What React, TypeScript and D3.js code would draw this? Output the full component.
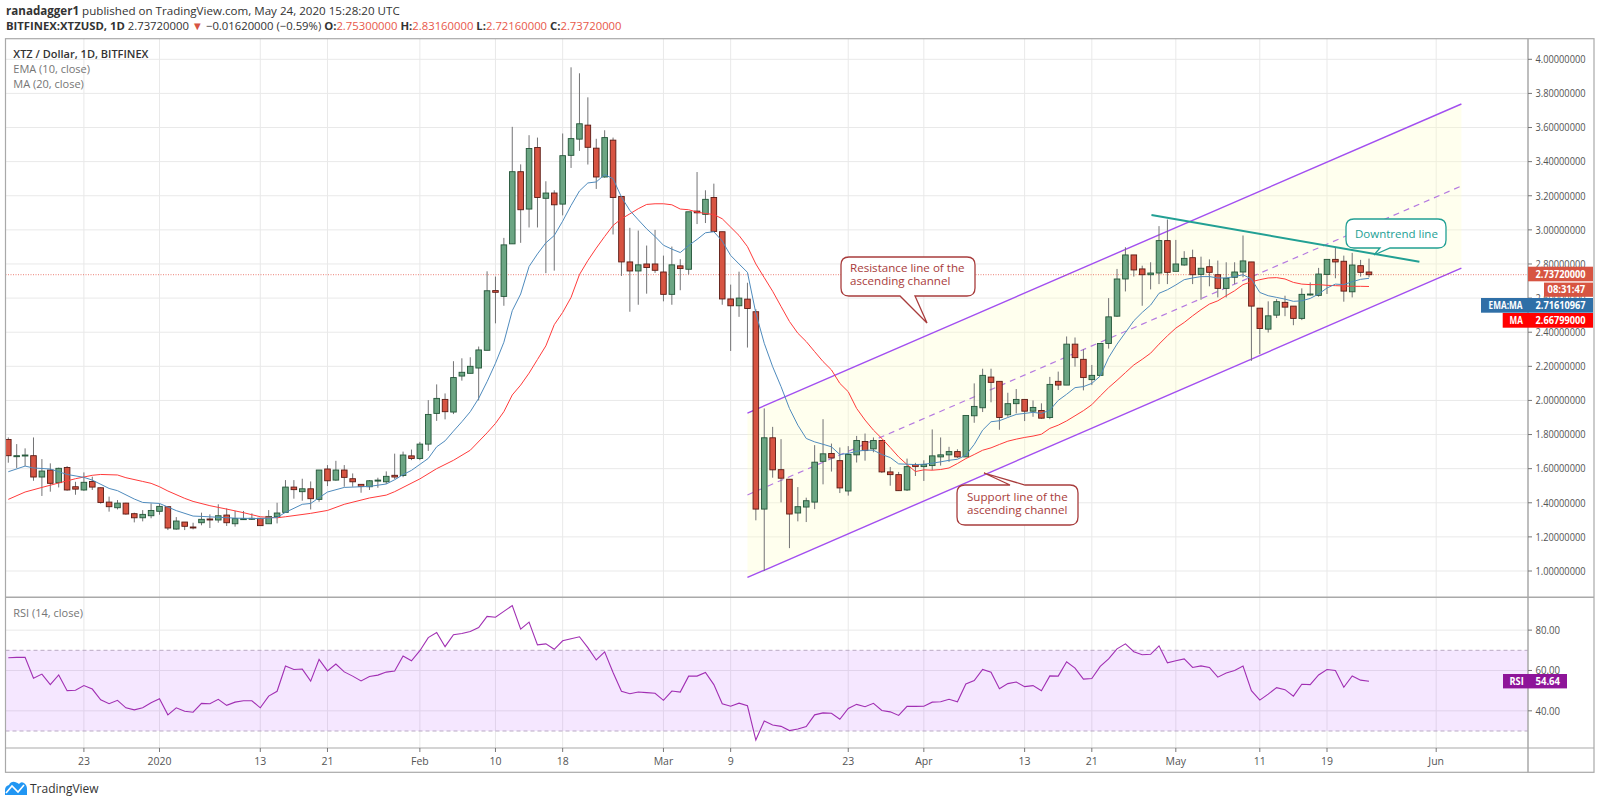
import React from 'react';
import * as d3 from 'd3';

// open, high, low, close per daily bar, first bar is Dec 14 2019
const candles: number[][] = [
  [1.771,1.783,1.635,1.676],[1.676,1.744,1.604,1.676],[1.676,1.719,1.615,1.68],[1.676,1.783,1.529,1.551],
  [1.551,1.656,1.44,1.586],[1.592,1.631,1.465,1.514],[1.518,1.606,1.49,1.602],[1.607,1.615,1.471,1.475],
  [1.494,1.523,1.447,1.48],[1.475,1.578,1.47,1.52],[1.525,1.553,1.475,1.492],[1.488,1.49,1.395,1.402],
  [1.404,1.436,1.348,1.377],[1.371,1.416,1.361,1.398],[1.398,1.4,1.33,1.334],[1.336,1.342,1.285,1.312],
  [1.312,1.357,1.291,1.332],[1.324,1.396,1.309,1.355],[1.35,1.396,1.33,1.379],[1.377,1.38,1.24,1.252],
  [1.246,1.316,1.242,1.293],[1.287,1.287,1.24,1.262],[1.258,1.283,1.244,1.256],[1.283,1.342,1.268,1.303],
  [1.305,1.332,1.252,1.301],[1.299,1.391,1.283,1.324],[1.328,1.367,1.264,1.283],[1.277,1.352,1.26,1.307],
  [1.303,1.352,1.299,1.307],[1.305,1.338,1.299,1.309],[1.309,1.309,1.266,1.266],[1.277,1.357,1.277,1.32],
  [1.318,1.4,1.279,1.34],[1.344,1.533,1.344,1.492],[1.492,1.533,1.424,1.477],[1.465,1.541,1.412,1.482],
  [1.482,1.525,1.361,1.424],[1.42,1.592,1.406,1.592],[1.598,1.621,1.498,1.529],[1.533,1.646,1.529,1.592],
  [1.592,1.621,1.494,1.549],[1.541,1.572,1.494,1.523],[1.508,1.508,1.459,1.496],[1.494,1.533,1.475,1.529],
  [1.529,1.547,1.488,1.533],[1.523,1.584,1.51,1.555],[1.561,1.688,1.539,1.551],[1.56,1.70,1.55,1.68],
  [1.675,1.712,1.65,1.66],[1.66,1.757,1.65,1.744],[1.744,2.002,1.704,1.918],[1.924,2.094,1.88,2.012],
  [2.006,2.041,1.889,1.934],[1.932,2.23,1.92,2.134],[2.143,2.247,2.116,2.165],[2.159,2.253,2.159,2.2],
  [2.19,2.316,2.0,2.296],[2.294,2.757,2.294,2.643],[2.644,2.726,2.452,2.634],[2.61,2.953,2.555,2.912],
  [2.918,3.604,2.918,3.341],[3.341,3.384,2.924,3.118],[3.122,3.555,3.014,3.477],[3.483,3.541,3.014,3.19],
  [3.185,3.285,2.746,3.216],[3.216,3.232,2.761,3.147],[3.151,3.565,3.085,3.435],[3.437,3.953,3.363,3.535],
  [3.532,3.918,3.463,3.622],[3.614,3.777,3.383,3.484],[3.479,3.534,3.24,3.31],[3.31,3.584,3.306,3.541],
  [3.526,3.541,2.973,3.19],[3.196,3.196,2.73,2.812],[2.812,3.012,2.52,2.759],[2.759,2.996,2.561,2.795],
  [2.8,2.908,2.626,2.779],[2.8,3.0,2.748,2.763],[2.753,2.849,2.581,2.622],[2.622,2.902,2.561,2.795],
  [2.789,2.828,2.646,2.773],[2.769,3.106,2.738,3.106],[3.11,3.339,3.034,3.1],[3.091,3.232,3.04,3.179],
  [3.19,3.271,2.991,2.991],[2.989,2.989,2.561,2.595],[2.595,2.679,2.29,2.555],[2.555,2.755,2.49,2.6],
  [2.594,2.69,2.31,2.539],[2.52,2.535,1.297,1.363],[1.363,1.953,1.0,1.781],[1.781,1.845,1.547,1.593],
  [1.594,1.773,1.402,1.544],[1.538,1.538,1.134,1.334],[1.34,1.492,1.291,1.377],[1.375,1.43,1.287,1.412],
  [1.404,1.738,1.363,1.638],[1.643,1.89,1.508,1.687],[1.689,1.747,1.583,1.663],[1.647,1.724,1.457,1.487],
  [1.469,1.732,1.442,1.683],[1.681,1.792,1.636,1.765],[1.759,1.806,1.647,1.706],[1.716,1.783,1.696,1.765],
  [1.765,1.765,1.575,1.581],[1.581,1.61,1.5,1.565],[1.565,1.581,1.469,1.471],[1.475,1.659,1.469,1.612],
  [1.624,1.634,1.557,1.612],[1.612,1.649,1.528,1.624],[1.618,1.83,1.591,1.675],[1.669,1.783,1.618,1.681],
  [1.681,1.728,1.64,1.7],[1.7,1.714,1.663,1.669],[1.669,1.912,1.669,1.912],[1.91,2.1,1.869,1.965],
  [1.957,2.186,1.932,2.147],[2.137,2.186,1.989,2.106],[2.112,2.112,1.828,1.9],[1.916,2.045,1.904,1.981],
  [1.981,2.067,1.924,2.006],[2.006,2.006,1.879,1.937],[1.937,2.0,1.904,1.959],[1.941,1.983,1.892,1.896],
  [1.9,2.138,1.89,2.094],[2.112,2.169,2.061,2.09],[2.09,2.375,2.09,2.33],[2.33,2.369,2.198,2.251],
  [2.241,2.3,2.059,2.134],[2.122,2.208,2.09,2.147],[2.147,2.334,2.147,2.334],[2.334,2.6,2.304,2.49],
  [2.494,2.771,2.49,2.712],[2.712,2.898,2.639,2.853],[2.853,2.853,2.726,2.765],[2.771,2.79,2.555,2.737],
  [2.737,2.81,2.651,2.747],[2.747,3.022,2.682,2.937],[2.937,3.061,2.682,2.751],[2.757,2.941,2.757,2.8],
  [2.794,2.875,2.79,2.833],[2.837,2.884,2.682,2.737],[2.739,2.843,2.59,2.775],[2.784,2.827,2.669,2.751],
  [2.737,2.82,2.604,2.657],[2.657,2.81,2.604,2.716],[2.722,2.81,2.682,2.753],[2.753,2.967,2.722,2.818],
  [2.812,2.812,2.232,2.553],[2.541,2.541,2.271,2.422],[2.418,2.581,2.398,2.496],[2.5,2.594,2.483,2.579],
  [2.575,2.614,2.494,2.547],[2.553,2.553,2.441,2.481],[2.481,2.657,2.471,2.622],[2.622,2.692,2.614,2.624],
  [2.616,2.777,2.608,2.741],[2.739,2.827,2.624,2.827],[2.827,2.894,2.716,2.812],[2.816,2.849,2.579,2.641],
  [2.637,2.865,2.604,2.794],[2.79,2.824,2.726,2.751],[2.753,2.8316,2.7216,2.7372],
];

// [bar index, value]
const emaPoints: number[][] = [
  [0,1.582],[2,1.615],[3,1.604],[5,1.598],[7,1.566],[9,1.549],[10,1.533],[12,1.484],[13,1.471],[15,1.422],
  [16,1.402],[18,1.396],[20,1.354],[22,1.322],[23,1.32],[27,1.31],[30,1.307],[32,1.314],[33,1.344],[35,1.391],
  [36,1.396],[38,1.463],[40,1.49],[43,1.496],[45,1.51],[46,1.535],[47,1.565],[48,1.59],[49,1.625],[50,1.66],
  [51,1.728],[52,1.763],[53,1.82],[54,1.875],[55,1.934],[56,2.012],[57,2.11],[58,2.218],[59,2.341],[60,2.526],
  [61,2.624],[62,2.785],[63,2.859],[64,2.924],[65,2.967],[66,3.051],[67,3.143],[68,3.228],[69,3.275],[70,3.281],
  [71,3.324],[72,3.3],[73,3.192],[74,3.114],[75,3.059],[76,3.006],[77,2.961],[78,2.91],[79,2.887],[80,2.867],
  [81,2.908],[82,2.944],[83,2.983],[84,2.989],[85,2.934],[86,2.85],[87,2.8],[88,2.751],[89,2.512],[90,2.335],
  [91,2.198],[92,2.081],[93,1.953],[94,1.855],[95,1.777],[96,1.757],[97,1.743],[98,1.728],[99,1.683],[100,1.689],
  [101,1.702],[102,1.708],[103,1.708],[104,1.683],[105,1.665],[106,1.628],[107,1.626],[108,1.624],[109,1.626],
  [110,1.632],[111,1.64],[112,1.649],[113,1.655],[114,1.679],[115,1.742],[116,1.826],[117,1.875],[118,1.881],
  [119,1.9],[120,1.918],[121,1.924],[122,1.93],[123,1.924],[124,1.943],[125,2.0],[126,2.036],[127,2.075],
  [128,2.081],[129,2.1],[130,2.143],[131,2.251],[132,2.33],[133,2.398],[134,2.467],[135,2.516],[136,2.559],
  [137,2.628],[138,2.649],[139,2.677],[140,2.708],[141,2.718],[142,2.726],[143,2.726],[144,2.718],[145,2.718],
  [146,2.726],[147,2.737],[148,2.712],[149,2.633],[150,2.614],[151,2.604],[152,2.594],[153,2.581],[154,2.584],
  [155,2.598],[156,2.624],[157,2.659],[158,2.682],[159,2.679],[160,2.696],[161,2.71],[162,2.716],
];

const maPoints: number[][] = [
  [0,1.42],[2,1.463],[4,1.49],[6,1.516],[8,1.541],[10,1.561],[11,1.566],[13,1.563],[14,1.547],[16,1.525],
  [17,1.514],[18,1.494],[19,1.469],[21,1.426],[22,1.408],[24,1.383],[26,1.363],[28,1.342],[30,1.318],[32,1.312],
  [33,1.318],[36,1.338],[38,1.355],[40,1.391],[43,1.428],[45,1.445],[46,1.465],[49,1.54],[51,1.6],[53,1.649],
  [55,1.708],[57,1.81],[58,1.865],[59,1.934],[60,2.032],[61,2.09],[62,2.16],[63,2.24],[64,2.32],[65,2.444],
  [66,2.516],[67,2.604],[68,2.738],[69,2.82],[70,2.893],[71,2.961],[72,3.026],[73,3.065],[74,3.094],[75,3.124],
  [76,3.149],[77,3.153],[78,3.153],[79,3.147],[80,3.122],[81,3.118],[82,3.104],[83,3.096],[84,3.09],[85,3.065],
  [86,3.016],[87,2.967],[88,2.902],[89,2.8],[90,2.72],[91,2.64],[92,2.551],[93,2.463],[94,2.394],[95,2.345],
  [96,2.286],[97,2.228],[98,2.179],[99,2.1],[100,2.051],[101,1.953],[102,1.885],[103,1.826],[104,1.777],
  [105,1.724],[106,1.669],[107,1.624],[108,1.583],[109,1.593],[110,1.591],[111,1.595],[112,1.604],[113,1.63],
  [114,1.659],[115,1.683],[116,1.708],[117,1.722],[118,1.742],[119,1.761],[120,1.773],[121,1.783],[122,1.791],
  [123,1.802],[124,1.836],[125,1.855],[126,1.88],[127,1.91],[128,1.94],[129,1.975],[130,2.026],[131,2.075],
  [132,2.118],[133,2.163],[134,2.208],[135,2.241],[136,2.277],[137,2.33],[138,2.379],[139,2.424],[140,2.457],
  [141,2.496],[142,2.532],[143,2.565],[144,2.584],[145,2.614],[146,2.643],[147,2.679],[148,2.696],[149,2.708],
  [150,2.718],[151,2.72],[152,2.712],[153,2.692],[154,2.682],[155,2.679],[156,2.679],[157,2.675],[158,2.673],
  [159,2.671],[160,2.669],[161,2.669],[162,2.668],
];

const rsiValues = [
  66.3,66.5,66.5,56.2,58.2,53,57.8,50,50.2,52.5,50.8,45.5,43.5,45.2,41.5,40.5,41.5,44,46,38,
  41.5,39.8,39.3,43.7,43.5,45.7,42.7,44.3,45,45,41.5,47.3,49.7,62.2,60.5,60.7,54.7,65.5,59.8,63.2,
  59.3,57.2,54.8,57,57.7,59.2,59.7,67.2,64.8,69.8,76.3,78.8,71.8,77.7,78.3,79.3,81.3,86.8,86.4,89.3,
  92.2,80.5,84,72.7,73.2,70.5,74.7,75.7,76.7,71.3,65.2,69.2,59,49.7,48.5,49.3,49,48.7,45.2,49.8,
  49.3,57.2,57.2,59,53,43.5,42.3,43.8,42.5,25.5,35,33,32.3,30.2,31,32.2,38,39,38.8,35.8,
  41.2,43.2,42,43.7,40.2,39.5,37.7,42.2,42.2,42.3,44.3,44.5,45.7,44.5,53.3,55,60.5,59.1,51,53.5,
  54.3,52,52.5,50,57.3,57.2,64.3,61.2,55.7,56,62,65.7,70.7,73.2,69.3,67.8,68,72.2,63.8,64.8,
  65.7,61.5,62.3,61.5,56.7,58.7,60,62.2,50,45.3,48.3,51.5,50.5,47.3,53.2,53,57.8,60.5,60,51.7,
  57.3,55.2,54.64,
];

const priceTicks = [1, 1.2, 1.4, 1.6, 1.8, 2, 2.2, 2.4, 2.6, 2.8, 3, 3.2, 3.4, 3.6, 3.8, 4];
const rsiTicks = [40, 60, 80];
const timeTickBars = [9, 18, 30, 38, 49, 58, 66, 78, 86, 100, 109, 121, 129, 139, 149, 157, 170];
const timeTickLabels = ['23', '2020', '13', '21', 'Feb', '10', '18', 'Mar', '9', '23', 'Apr', '13', '21', 'May', '11', '19', 'Jun'];

// channel and trend line anchors in [bar index, price]
const channelUpper = [[88, 1.926], [173, 3.738]];
const channelMiddle = [[88, 1.446], [173, 3.257]];
const channelLower = [[88, 0.962], [173, 2.776]];
const downtrendLine = [[136.1, 3.087], [168, 2.813]];

const lastPrice = 2.7372;

const W = 1600;
const H = 805;
const left = 5.5;
const axisX = 1528;
const right = 1594;
const top = 38.7;
const paneSplit = 597.3;
const timeAxisY = 748;
const bottom = 772.3;

const font = '"Open Sans", "Noto Sans", sans-serif';
const upFill = '#6ba583';
const downFill = '#d75442';
const upBorder = '#225437';
const downBorder = '#5b1a13';
const grid = '#e9e9e9';
const frame = '#a9a9a9';
const calloutRed = '#a83c3c';
const teal = '#22a094';

// axis and tag texts are squeezed in the picture, so they are fitted to a width
const Fit = ({ x, y, w, bold, fill, children }: any) => (
  <text x={x} y={y} fontSize={10.2} fontWeight={bold ? 700 : 400} fill={fill} textLength={w} lengthAdjust="spacingAndGlyphs">
    {children}
  </text>
);

export default function App() {
  const x = d3.scaleLinear().domain([0, 162]).range([8.3, 1369]);
  const y = d3.scaleLinear().domain([1, 4]).range([571, 59.3]);
  const yRsi = d3.scaleLinear().domain([30, 70]).range([731, 650.3]);

  const pointLine = d3.line<number[]>().x(d => x(d[0])).y(d => y(d[1]));
  const rsiLine = d3.line<number>().x((_, i) => x(i)).y(d => yRsi(d));
  const channelFill = [...channelUpper, ...[...channelLower].reverse()];

  const labelX = axisX + 7.5;

  return (
    <svg width={W} height={H} viewBox={`0 0 ${W} ${H}`} style={{ position: 'absolute', left: 0, top: 0, display: 'block', background: '#fff' }} fontFamily={font}>
      {/* header */}
      <text x={6} y={15} fontSize={11.6} fill="#333">
        <tspan fontWeight={700}>ranadagger1</tspan> published on TradingView.com, May 24, 2020 15:28:20 UTC
      </text>
      <text x={6} y={29.5} fontSize={11.3} fill="#333">
        <tspan fontWeight={700}>BITFINEX:XTZUSD, 1D</tspan>{' '}2.73720000{' '}
        <tspan fill={downFill}>▼</tspan>{' '}−0.01620000 (−0.59%){' '}
        <tspan fontWeight={700}>O:</tspan><tspan fill="#e8584a">2.75300000</tspan>{' '}
        <tspan fontWeight={700}>H:</tspan><tspan fill="#e8584a">2.83160000</tspan>{' '}
        <tspan fontWeight={700}>L:</tspan><tspan fill="#e8584a">2.72160000</tspan>{' '}
        <tspan fontWeight={700}>C:</tspan><tspan fill="#e8584a">2.73720000</tspan>
      </text>

      {/* grids */}
      {timeTickBars.map(b => (
        <line key={b} x1={x(b)} x2={x(b)} y1={top} y2={timeAxisY} stroke={grid} strokeWidth={1} />
      ))}
      {priceTicks.map(p => (
        <line key={p} x1={left} x2={axisX} y1={y(p)} y2={y(p)} stroke={grid} strokeWidth={1} />
      ))}
      {rsiTicks.map(r => (
        <line key={r} x1={left} x2={axisX} y1={yRsi(r)} y2={yRsi(r)} stroke={grid} strokeWidth={1} />
      ))}

      {/* channel under the bars */}
      <path d={pointLine(channelFill) + 'Z'} fill="#ffffc8" fillOpacity={0.3} />
      <path d={pointLine(channelUpper) || ''} stroke="#a24ff0" strokeWidth={1.4} fill="none" />
      <path d={pointLine(channelLower) || ''} stroke="#a24ff0" strokeWidth={1.4} fill="none" />
      <path d={pointLine(channelMiddle) || ''} stroke="#b57ae0" strokeWidth={1.2} strokeDasharray="6 5" fill="none" />

      {/* last price dotted line */}
      <line x1={left} x2={axisX} y1={y(lastPrice)} y2={y(lastPrice)} stroke="#e8584a" strokeWidth={1} strokeDasharray="1 1.5" opacity={0.75} />

      {/* candles */}
      {candles.map((c, i) => {
        const [o, h, l, cl] = c;
        const up = cl >= o;
        const yTop = y(Math.max(o, cl));
        const yBot = y(Math.min(o, cl));
        return (
          <g key={i}>
            <line x1={x(i)} x2={x(i)} y1={y(h)} y2={y(l)} stroke="#737375" strokeWidth={1} />
            <rect x={x(i) - 2.8} width={5.6} y={yTop} height={Math.max(yBot - yTop, 1)}
              fill={up ? upFill : downFill} stroke={up ? upBorder : downBorder} strokeWidth={0.9} />
          </g>
        );
      })}

      <path d={pointLine(maPoints) || ''} fill="none" stroke="#ff3b3b" strokeWidth={1} />
      <path d={pointLine(emaPoints) || ''} fill="none" stroke="#4f8bbd" strokeWidth={1} />

      <path d={pointLine(downtrendLine) || ''} fill="none" stroke={teal} strokeWidth={2} />

      {/* callouts */}
      <path d="M849 257 H967 Q975 257 975 265 V288 Q975 296 967 296 H915 L927 323 L900 296 H849 Q841 296 841 288 V265 Q841 257 849 257 Z"
        fill="#fff" stroke={calloutRed} strokeWidth={1.3} />
      <text x={850} y={272} fontSize={11.6} fill={calloutRed}>Resistance line of the</text>
      <text x={850} y={285} fontSize={11.6} fill={calloutRed}>ascending channel</text>

      <path d="M965 485 H1010 L984 473 L1025 485 H1070 Q1078 485 1078 493 V517 Q1078 525 1070 525 H965 Q957 525 957 517 V493 Q957 485 965 485 Z"
        fill="#fff" stroke={calloutRed} strokeWidth={1.3} />
      <text x={967} y={501} fontSize={11.6} fill={calloutRed}>Support line of the</text>
      <text x={967} y={514} fontSize={11.6} fill={calloutRed}>ascending channel</text>

      <path d="M1354 219 H1438 Q1446 219 1446 227 V240 Q1446 248 1438 248 H1390 L1374 255 L1380 248 H1354 Q1346 248 1346 240 V227 Q1346 219 1354 219 Z"
        fill="#fff" stroke={teal} strokeWidth={1.3} />
      <text x={1355} y={238} fontSize={11.5} fill={teal}>Downtrend line</text>

      {/* RSI pane */}
      <rect x={left} width={axisX - left} y={yRsi(70)} height={yRsi(30) - yRsi(70)} fill="#9915ff" fillOpacity={0.1} />
      {[70, 30].map(r => (
        <line key={r} x1={left} x2={axisX} y1={yRsi(r)} y2={yRsi(r)} stroke="#b9a9c4" strokeWidth={1} strokeDasharray="4 3" />
      ))}
      <path d={rsiLine(rsiValues) || ''} fill="none" stroke="#a12fb3" strokeWidth={1.1} />

      {/* frame */}
      <rect x={left} y={top} width={right - left} height={bottom - top} fill="none" stroke={frame} strokeWidth={1.2} />
      <line x1={left} x2={right} y1={paneSplit} y2={paneSplit} stroke={frame} strokeWidth={1.5} />
      <line x1={left} x2={right} y1={timeAxisY} y2={timeAxisY} stroke={frame} strokeWidth={1.2} />
      <line x1={axisX} x2={axisX} y1={top} y2={bottom} stroke={frame} strokeWidth={1.5} />

      {/* pane titles */}
      <text x={13.3} y={58} fontSize={11} fontWeight={600} fill="#333">XTZ / Dollar, 1D, BITFINEX</text>
      <text x={13.3} y={73} fontSize={11} fill="#757575">EMA (10, close)</text>
      <text x={13.3} y={88} fontSize={11} fill="#757575">MA (20, close)</text>
      <text x={13.3} y={617} fontSize={11} fill="#757575">RSI (14, close)</text>

      {/* price axis */}
      {priceTicks.map(p => (
        <g key={p}>
          <line x1={axisX} x2={axisX + 4} y1={y(p)} y2={y(p)} stroke="#777" />
          <Fit x={labelX} y={y(p) + 3.8} w={50} fill="#555">{p.toFixed(8)}</Fit>
        </g>
      ))}
      {rsiTicks.map(r => (
        <g key={r}>
          <line x1={axisX} x2={axisX + 4} y1={yRsi(r)} y2={yRsi(r)} stroke="#777" />
          <Fit x={labelX} y={yRsi(r) + 3.8} w={24.5} fill="#555">{r.toFixed(2)}</Fit>
        </g>
      ))}

      {/* time axis */}
      {timeTickBars.map((b, i) => (
        <g key={b}>
          <line x1={x(b)} x2={x(b)} y1={timeAxisY} y2={timeAxisY + 4} stroke="#777" />
          <text x={x(b)} y={765} fontSize={10.5} textAnchor="middle" fill="#555">{timeTickLabels[i]}</text>
        </g>
      ))}

      {/* value tags */}
      <rect x={axisX} y={266.7} width={65} height={14.6} fill="#d75442" />
      <Fit x={labelX} y={277.8} w={50} bold fill="#fff">2.73720000</Fit>
      <rect x={1544} y={282.6} width={49} height={14.2} fill="#d75442" />
      <Fit x={1547.5} y={293.4} w={37.7} bold fill="#fff">08:31:47</Fit>
      <rect x={1481} y={298} width={112} height={14.7} fill="#2f6fa7" />
      <Fit x={1488.5} y={309} w={34} bold fill="#fff">EMA:MA</Fit>
      <Fit x={labelX} y={309} w={50} bold fill="#fff">2.71610967</Fit>
      <rect x={1502.7} y={313} width={90.3} height={14.7} fill="#ff0000" />
      <Fit x={1509.5} y={324} w={13.3} bold fill="#fff">MA</Fit>
      <Fit x={labelX} y={324} w={50} bold fill="#fff">2.66799000</Fit>
      <rect x={1503} y={674} width={64} height={14.4} fill="#8e1599" />
      <Fit x={1509.5} y={685} w={14.3} bold fill="#fff">RSI</Fit>
      <Fit x={labelX} y={685} w={24.5} bold fill="#fff">54.64</Fit>

      {/* logo */}
      <path d="M5 795 V790 Q5 786 9 785 Q11 781 15 782 Q18 783 19 784 Q21 781 24 783 Q27 785 27 789 V795 Z" fill="#2196f3" />
      <path d="M6 793 L12 786 L18 792 L24 785" fill="none" stroke="#fff" strokeWidth={1.6} />
      <text x={30} y={793} fontSize={12} fill="#333">TradingView</text>
    </svg>
  );
}
